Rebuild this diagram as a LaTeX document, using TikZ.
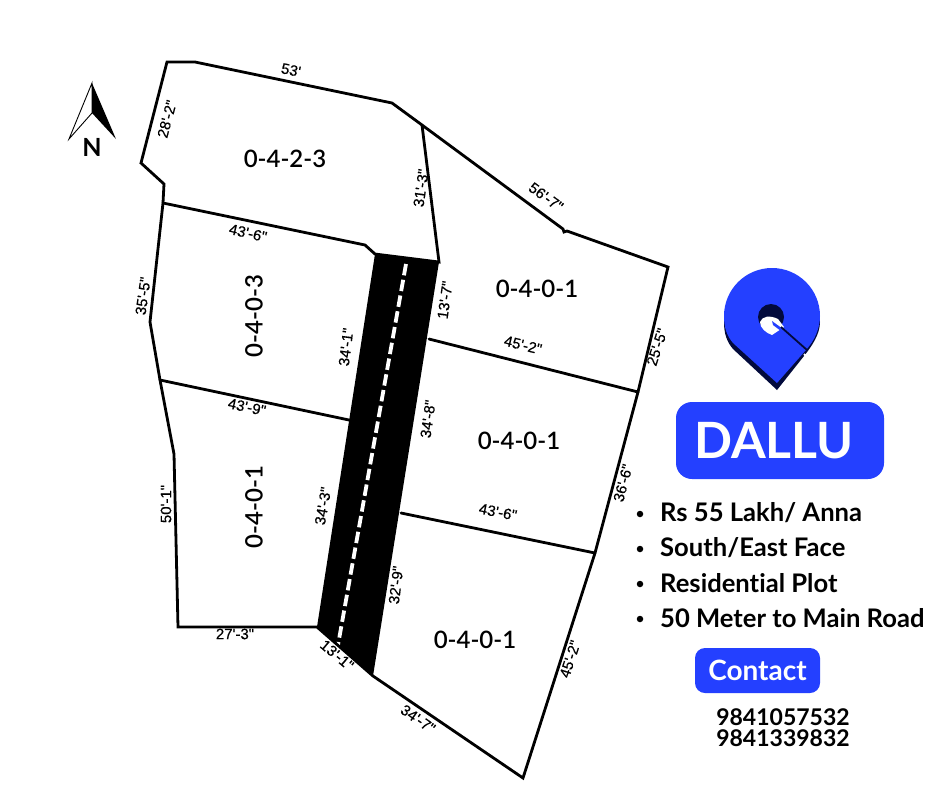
\documentclass[tikz,border=0pt]{standalone}
\usepackage{fontspec}
\setmainfont[Ligatures=NoCommon]{Lato}
\newfontfamily\lab[FakeBold=0.4]{Liberation Sans}
\newfontfamily\areaf{Lato Semibold}
\definecolor{pinblue}{HTML}{2440FF}
\definecolor{pinnavy}{HTML}{020A3C}
\tikzset{
  lot/.style={draw=black,line width=2.8pt,line join=miter,line cap=round},
  dim/.style={font=\lab\fontsize{15}{16}\selectfont,inner sep=0pt},
  area/.style={font=\areaf\fontsize{24}{26}\selectfont,inner sep=0pt},
  btn/.style={fill=pinblue,text=white,font=\bfseries,inner sep=0pt},
  fact/.style={anchor=west,inner sep=0pt,font=\fontsize{25.6}{27}\selectfont\bfseries},
  bul/.style={circle,fill=black,inner sep=0pt,minimum size=6.5pt},
  phone/.style={inner sep=0pt,font=\fontsize{23}{25}\selectfont\bfseries},
}
\begin{document}
\begin{tikzpicture}[x=1pt,y=-1pt]
\useasboundingbox (0,0) rectangle (940,788);
\fill[white] (0,0) rectangle (940,788);
% corner coordinates
\coordinate (a) at (167,62);
\coordinate (b) at (195,62);
\coordinate (c) at (392,103);
\coordinate (d) at (422,125);
\coordinate (e0) at (563,229);
\coordinate (e1) at (564,232);
\coordinate (e) at (567,231);
\coordinate (f) at (668,267);
\coordinate (g) at (638,392);
\coordinate (h) at (595,553);
\coordinate (i) at (523,778);
\coordinate (j) at (373,676);
\coordinate (k) at (317,627);
\coordinate (l) at (178,627);
\coordinate (m) at (174,454);
\coordinate (n) at (160,380);
\coordinate (o) at (150,322);
\coordinate (p) at (163,203);
\coordinate (q) at (164,184);
\coordinate (r) at (141,163);
\coordinate (s) at (365,245);
\coordinate (t) at (375,254);
\coordinate (u) at (439,262);
\coordinate (v) at (429,339);
\coordinate (w) at (401,513);
\coordinate (x1) at (349,420);
\coordinate (d1) at (406,264);
\coordinate (d2) at (338,645);
% road
\fill[black] (t) -- (u) -- (j) -- (k) -- cycle;
\draw[white,line width=3.8pt,dash pattern=on 11.5pt off 4.5pt] (d1) -- (d2);
% lots
\draw[lot] (a) -- (b) -- (c) -- (d) -- (e0) -- (e1) -- (e) -- (f) -- (g) -- (h) -- (i) -- (j) -- (k) -- (l) -- (m) -- (n) -- (o) -- (p) -- (q) -- (r) -- cycle;
\draw[lot] (p) -- (s) -- (t) -- (u) -- (d);
\draw[lot] (v) -- (g);
\draw[lot] (w) -- (h);
\draw[lot] (n) -- (x1);
% dimensions
\node[dim,rotate=-12] (t1) at (291,70) {53'};
\node[dim,rotate=75] (t2) at (167,119) {28'-2"};
\node[dim,rotate=82] (t3) at (421,188) {31'-3"};
\node[dim,rotate=-36] (t4) at (546,197) {56'-7"};
\node[dim,rotate=-13] (t5) at (248,233) {43'-6"};
\node[dim,rotate=82] (t6) at (143,296) {35'-5"};
\node[dim,rotate=83] (t7) at (346,347) {34'-1"};
\node[dim,rotate=82] (t8) at (445,300) {13'-7"};
\node[dim,rotate=-14] (t9) at (523,345) {45'-2"};
\node[dim,rotate=72] (t10) at (657,347) {25'-5"};
\node[dim,rotate=-12] (t11) at (247,407) {43'-9"};
\node[dim,rotate=82] (t12) at (428,419) {34'-8"};
\node[dim,rotate=75] (t13) at (623,483) {36'-6"};
\node[dim,rotate=-11] (t14) at (498,512) {43'-6"};
\node[dim,rotate=90] (t15) at (166,504) {50'-1"};
\node[dim,rotate=80] (t16) at (323,506) {34'-3"};
\node[dim,rotate=83] (t17) at (396,585) {32'-9"};
\node[dim] (t18) at (235,634) {27'-3"};
\node[dim,rotate=-40] (t19) at (337,655) {13'-1"};
\node[dim,rotate=-35] (t20) at (418,719) {34'-7"};
\node[dim,rotate=72] (t21) at (570,659) {45'-2"};
% areas
\node[area] (a1) at (285,159) {0-4-2-3};
\node[area] (a2) at (537,289) {0-4-0-1};
\node[area,rotate=90] (a3) at (254,316) {0-4-0-3};
\node[area] (a4) at (519,441) {0-4-0-1};
\node[area,rotate=90] (a5) at (254,507) {0-4-0-1};
\node[area] (a6) at (475,640) {0-4-0-1};
% north arrow
\coordinate (na) at (92,83);
\coordinate (nl) at (69,139);
\coordinate (nr) at (116,139);
\coordinate (nc) at (92,113);
\draw[black,line width=0.9pt,line join=miter] (na) -- (nl) -- (nc) -- cycle;
\fill[black] (na) -- (nr) -- (nc) -- cycle;
\node[inner sep=0pt,font=\fontsize{25}{26}\selectfont\bfseries] (nn) at (92,147) {N};
% pin
\path[fill=pinnavy] (724,322) arc[start angle=180,end angle=360,radius=48] .. controls (820,334) and (812,346) .. (804,356) -- (777,390) -- (733,349) .. controls (727,342) and (724,334) .. (724,322) -- cycle;
\path[fill=pinblue] (724,316) arc[start angle=180,end angle=360,radius=48] .. controls (820,328) and (815,340) .. (806,350) -- (777,383) -- (733,343) .. controls (727,336) and (724,328) .. (724,316) -- cycle;
\fill[pinnavy] (771,317) circle[radius=13];
\fill[white] (760,322) .. controls (762,316) and (770,315) .. (778,319) -- (784,327) -- (778,331) -- (772,335) .. controls (766,333) and (760,328) .. (760,322) -- cycle;
\fill[pinblue] (772,321) -- (783,329) -- (781,331) -- (773,325) -- cycle;
\draw[pinnavy,line width=1.8pt] (781,327) -- (807,350);
\draw[white,line width=1.8pt] (804,354) -- (807,357);
% labels on right
\node[btn,rounded corners=16pt,minimum width=208pt,minimum height=77pt] (dallu) at (780,440.5) {};
\node[text=white,inner sep=0pt,font=\fontsize{50}{52}\selectfont\bfseries] (dallut) at (774,440.5) {DALLU};
\node[bul] (b1) at (640,514) {};
\node[bul] (b2) at (640,549) {};
\node[bul] (b3) at (640,584) {};
\node[bul] (b4) at (640,619) {};
\node[fact] (f1) at (660,513) {Rs 55 Lakh/ Anna};
\node[fact] (f2) at (660,548) {South/East Face};
\node[fact] (f3) at (660,583) {Residential Plot};
\node[fact] (f4) at (660,618) {50 Meter to Main Road};
\node[btn,rounded corners=10pt,minimum width=125pt,minimum height=45pt,font=\fontsize{28}{30}\selectfont\bfseries] (ct) at (757.5,670.5) {Contact};
\node[phone] (p1) at (783,717) {9841057532};
\node[phone] (p2) at (783,738) {9841339832};
\end{tikzpicture}
\end{document}
